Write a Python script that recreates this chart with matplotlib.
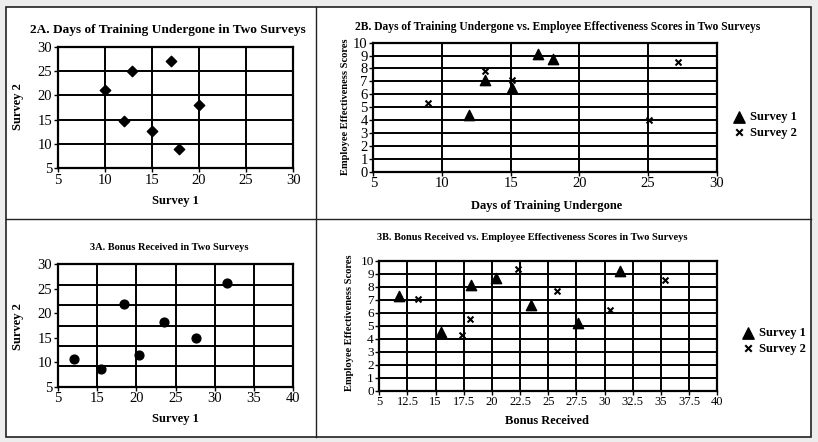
import matplotlib
matplotlib.use("Agg")
import matplotlib.pyplot as plt
from matplotlib.patches import Rectangle
from matplotlib.ticker import MultipleLocator, FixedLocator

plt.rcParams['font.family'] = ['Liberation Serif', 'DejaVu Serif']

# 2A: days of training, survey 1 vs survey 2
a2_s1 = [10, 12.85, 17, 12, 15, 20, 17.9]
a2_s2 = [21, 25, 27, 14.7, 12.7, 18, 9]

# 2B: days of training vs effectiveness
b2_days1 = [12, 13.1, 15.1, 17, 18.1]
b2_score1 = [4.4, 7.1, 6.5, 9.1, 8.7]
b2_days2 = [9, 13.1, 15.1, 25.1, 27.2]
b2_score2 = [5.3, 7.8, 7.1, 4.0, 8.5]

# 3A: bonus received, survey 1 vs survey 2
a3_s1 = [12.1, 15.5, 18.4, 20.4, 23.5, 27.6, 31.5]
a3_s2 = [10.6, 8.6, 21.8, 11.5, 18.2, 15.0, 26.1]
a3_xticks = [10, 15, 20, 25, 30, 35, 40]
a3_xlabels = ['5', '15', '20', '25', '30', '35', '40']

# 3B: bonus received vs effectiveness
b3_bonus1 = [11.75, 15.45, 18.1, 20.35, 23.45, 27.6, 31.4]
b3_score1 = [7.3, 4.5, 8.1, 8.7, 6.6, 5.2, 9.2]
b3_bonus2 = [13.4, 17.3, 18.05, 22.35, 25.8, 30.45, 35.4]
b3_score2 = [7.05, 4.3, 5.5, 9.4, 7.7, 6.2, 8.5]
b3_xticks = [10, 12.5, 15, 17.5, 20, 22.5, 25, 27.5, 30, 32.5, 35, 37.5, 40]
b3_xlabels = ['5', '12.5', '15', '17.5', '20', '22.5', '25', '27.5', '30', '32.5',
              '35', '37.5', '40']

W, H = 818, 442
fig = plt.figure(figsize=(W / 100, H / 100), dpi=100, facecolor='#ededed')


def fx(px):
    return px / W


def fy(py):
    return 1 - py / H


def add_ax(l, t, r, b):
    ax = fig.add_axes([fx(l), fy(b), (r - l) / W, (b - t) / H])
    for s in ax.spines.values():
        s.set_linewidth(1.6)
        s.set_color('black')
    ax.tick_params(direction='out', length=3, width=1, color='black', pad=1)
    ax.set_axisbelow(True)
    return ax


# white panel with dividers
fig.patches.append(Rectangle((fx(6), fy(437)), (811 - 6) / W, (437 - 7) / H,
                             transform=fig.transFigure, facecolor='white',
                             edgecolor='#222222', linewidth=1.2, zorder=-5))
fig.add_artist(plt.Line2D([fx(316), fx(316)], [fy(7), fy(437)], color='#222222', lw=1.0))
fig.add_artist(plt.Line2D([fx(6), fx(811)], [fy(219), fy(219)], color='#222222', lw=1.0))

grid_kw = dict(color='black', linewidth=1.4)
leg_kw = dict(frameon=False, handletextpad=0.4, handlelength=1, borderpad=0,
              labelspacing=0.25, markerscale=1.1, prop={'weight': 'bold', 'size': 9})

# ---- 2A
ax = add_ax(57.7, 46.7, 293.3, 168.3)
ax.scatter(a2_s1, a2_s2, marker='D', s=28, color='black', zorder=3)
ax.set_xlim(5, 30)
ax.set_ylim(5, 30)
ax.xaxis.set_major_locator(MultipleLocator(5))
ax.yaxis.set_major_locator(MultipleLocator(5))
ax.grid(True, **grid_kw)
ax.tick_params(labelsize=10.5)
fig.text(fx(168), fy(30), '2A. Days of Training Undergone in Two Surveys',
         ha='center', va='center', fontsize=9.6, fontweight='bold')
fig.text(fx(175), fy(201), 'Survey 1', ha='center', va='center', fontsize=9, fontweight='bold')
fig.text(fx(18), fy(107), 'Survey 2', ha='center', va='center', fontsize=9,
         fontweight='bold', rotation=90)

# ---- 2B
ax = add_ax(373.3, 42.7, 716.7, 171.7)
ax.scatter(b2_days1, b2_score1, marker='^', s=55, color='black', zorder=3, label='Survey 1')
ax.scatter(b2_days2, b2_score2, marker='x', s=18, color='black', linewidths=1.5,
           zorder=3, label='Survey 2')
ax.set_xlim(5, 30)
ax.set_ylim(0, 10)
ax.xaxis.set_major_locator(MultipleLocator(5))
ax.yaxis.set_major_locator(MultipleLocator(1))
ax.grid(True, **grid_kw)
ax.tick_params(labelsize=10.5)
fig.text(fx(558), fy(27), '2B. Days of Training Undergone vs. Employee Effectiveness Scores in Two Surveys',
         ha='center', va='center', fontsize=8.3, fontweight='bold')
fig.text(fx(547), fy(206), 'Days of Training Undergone', ha='center', va='center',
         fontsize=9, fontweight='bold')
fig.text(fx(346), fy(107), 'Employee Effectiveness Scores', ha='center', va='center',
         fontsize=7.6, fontweight='bold', rotation=90)
ax.legend(loc='center left', bbox_to_anchor=(fx(726), fy(125)), bbox_transform=fig.transFigure,
          **leg_kw)

# ---- 3A
ax = add_ax(57.7, 264.3, 293.3, 386.7)
ax.scatter(a3_s1, a3_s2, marker='o', s=40, color='black', zorder=3)
ax.set_xlim(10, 40)
ax.set_ylim(5, 30)
ax.set_xticks(a3_xticks)
ax.set_xticklabels(a3_xlabels)
ax.yaxis.set_major_locator(MultipleLocator(5))
ax.yaxis.set_minor_locator(FixedLocator([5 + k * 25 / 6 for k in range(7)]))
ax.tick_params(which='minor', length=0)
ax.xaxis.grid(True, **grid_kw)
ax.yaxis.grid(True, which='minor', **grid_kw)
ax.tick_params(labelsize=10.5)
fig.text(fx(169), fy(247), '3A. Bonus Received in Two Surveys',
         ha='center', va='center', fontsize=7.5, fontweight='bold')
fig.text(fx(175), fy(419), 'Survey 1', ha='center', va='center', fontsize=9, fontweight='bold')
fig.text(fx(18), fy(327), 'Survey 2', ha='center', va='center', fontsize=9,
         fontweight='bold', rotation=90)

# ---- 3B
ax = add_ax(379.3, 260.7, 717.3, 390.7)
ax.scatter(b3_bonus1, b3_score1, marker='^', s=55, color='black', zorder=3, label='Survey 1')
ax.scatter(b3_bonus2, b3_score2, marker='x', s=18, color='black', linewidths=1.5,
           zorder=3, label='Survey 2')
ax.set_xlim(10, 40)
ax.set_ylim(0, 10)
ax.set_xticks(b3_xticks)
ax.set_xticklabels(b3_xlabels)
ax.yaxis.set_major_locator(MultipleLocator(1))
ax.grid(True, **grid_kw)
ax.tick_params(axis='x', labelsize=9)
ax.tick_params(axis='y', labelsize=9.5)
fig.text(fx(532), fy(237), '3B. Bonus Received vs. Employee Effectiveness Scores in Two Surveys',
         ha='center', va='center', fontsize=7.5, fontweight='bold')
fig.text(fx(547), fy(421), 'Bonus Received', ha='center', va='center',
         fontsize=9, fontweight='bold')
fig.text(fx(350), fy(323), 'Employee Effectiveness Scores', ha='center', va='center',
         fontsize=7.6, fontweight='bold', rotation=90)
ax.legend(loc='center left', bbox_to_anchor=(fx(735), fy(341)), bbox_transform=fig.transFigure,
          **leg_kw)

fig.savefig('out.png', dpi=100, facecolor=fig.get_facecolor())
